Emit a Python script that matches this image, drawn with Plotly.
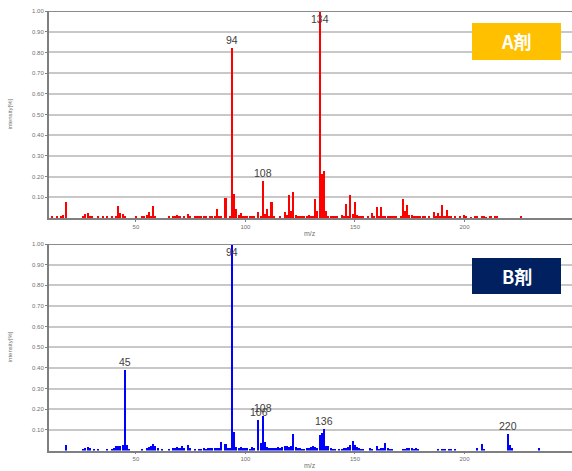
import plotly.graph_objects as go

# Mass spectrum of sample A (m/z, relative intensity)
mz_a = [12, 14, 16, 17, 18,
        26, 27, 28, 29, 30,
        33, 35, 37, 39, 41, 42, 43, 44, 45,
        50, 53, 54, 55, 56, 57, 58, 59,
        65, 67, 68, 69, 70, 72, 74, 75, 77, 78, 79, 80, 81, 82, 84, 85, 86, 87, 88, 89,
        91, 93, 94, 95, 96, 97, 98, 99, 100, 101, 102, 103, 104, 106, 107, 108, 109, 110, 111, 112, 113,
        116, 118, 119, 120, 121, 122, 123, 124, 125, 126, 127, 128, 129, 130, 131, 132, 133, 134, 135, 136,
        137, 138, 139, 140, 141, 142, 144, 145, 146, 147, 148, 149, 150, 151, 152, 153, 154, 156,
        158, 159, 160, 161, 162, 163, 164, 165, 166, 167, 168, 169, 171, 172, 173, 174, 175, 176, 177,
        178, 179, 180, 181, 182, 184, 186, 187, 188, 189, 190, 191, 192, 193, 194, 196, 198,
        200, 201, 203, 205, 206, 208, 209, 210, 212, 214, 215, 226]
int_a = [0.008, 0.008, 0.010, 0.015, 0.075,
         0.008, 0.020, 0.025, 0.010, 0.005,
         0.005, 0.005, 0.005, 0.008, 0.010, 0.060, 0.025, 0.020, 0.005,
         0.005, 0.008, 0.010, 0.015, 0.030, 0.012, 0.057, 0.008,
         0.012, 0.010, 0.012, 0.015, 0.008, 0.008, 0.020, 0.008, 0.008, 0.012, 0.010, 0.012, 0.012, 0.010, 0.008, 0.012, 0.010, 0.045, 0.010, 0.005,
         0.095, 0.010, 0.820, 0.115, 0.045, 0.015, 0.025, 0.010, 0.012, 0.010, 0.008, 0.010, 0.008, 0.028, 0.010, 0.180, 0.020, 0.045, 0.010, 0.075, 0.008,
         0.005, 0.030, 0.015, 0.110, 0.035, 0.125, 0.015, 0.008, 0.010, 0.005, 0.008, 0.006, 0.015, 0.008, 0.010, 0.090, 0.035, 1.000, 0.215, 0.225,
         0.035, 0.012, 0.008, 0.005, 0.008, 0.006, 0.015, 0.008, 0.068, 0.012, 0.110, 0.020, 0.078, 0.015, 0.012, 0.010, 0.008, 0.005,
         0.025, 0.008, 0.055, 0.010, 0.055, 0.008, 0.010, 0.012, 0.008, 0.010, 0.006, 0.008, 0.005, 0.093, 0.035, 0.063, 0.015, 0.015, 0.008,
         0.006, 0.008, 0.010, 0.006, 0.008, 0.006, 0.030, 0.008, 0.025, 0.010, 0.063, 0.010, 0.040, 0.012, 0.006, 0.005, 0.006,
         0.013, 0.006, 0.004, 0.006, 0.005, 0.005, 0.005, 0.004, 0.005, 0.006, 0.005, 0.005]
peaks_a = [94, 108, 134]

# Mass spectrum of sample B
mz_b = [18, 26, 27, 28, 29, 31, 33, 37, 39, 40, 41, 42, 43, 44, 45, 46, 47,
        53, 55, 56, 57, 58, 59, 60, 62,
        65, 67, 68, 69, 70, 71, 72, 74, 75, 77, 79, 80, 81, 82, 83, 84, 85, 86, 87, 88, 89,
        91, 92, 93, 94, 95, 96, 97, 98, 99, 100, 101, 102, 103, 104, 106, 107, 108, 109, 110,
        111, 112, 113, 114, 115, 116, 117, 118, 119, 120, 121, 122, 123, 124, 125, 126, 127, 128,
        129, 130, 131, 132, 133, 134, 135, 136, 137, 138, 139, 140, 141, 143, 144, 145, 146, 147,
        148, 149, 150, 151, 152, 153, 154, 157, 158, 160, 161, 162, 163, 164, 165, 166, 167,
        172, 173, 174, 175, 176, 177, 178, 179,
        188, 190, 191, 193, 194, 196, 206, 208, 209, 220, 221, 222, 234]
int_b = [0.027, 0.008, 0.012, 0.015, 0.012, 0.006, 0.008, 0.005, 0.008, 0.012, 0.020, 0.020, 0.022, 0.025, 0.390, 0.025, 0.008,
         0.006, 0.010, 0.015, 0.020, 0.030, 0.020, 0.010, 0.005,
         0.006, 0.010, 0.012, 0.015, 0.012, 0.020, 0.012, 0.025, 0.010, 0.006, 0.008, 0.008, 0.010, 0.008, 0.010, 0.012, 0.010, 0.012, 0.010, 0.012, 0.040,
         0.030, 0.010, 0.012, 1.000, 0.090, 0.015, 0.012, 0.015, 0.010, 0.012, 0.012, 0.008, 0.015, 0.010, 0.150, 0.035, 0.167, 0.040, 0.015,
         0.012, 0.010, 0.010, 0.012, 0.015, 0.012, 0.018, 0.022, 0.022, 0.015, 0.020, 0.080, 0.015, 0.010, 0.010, 0.008, 0.008, 0.010,
         0.012, 0.015, 0.020, 0.018, 0.012, 0.075, 0.085, 0.105, 0.020, 0.020, 0.010, 0.008, 0.006, 0.006, 0.008, 0.012, 0.010, 0.015,
         0.025, 0.045, 0.025, 0.015, 0.012, 0.008, 0.006, 0.010, 0.008, 0.020, 0.008, 0.010, 0.012, 0.035, 0.012, 0.008, 0.006,
         0.008, 0.008, 0.010, 0.012, 0.010, 0.008, 0.010, 0.008,
         0.005, 0.006, 0.008, 0.006, 0.005, 0.004, 0.012, 0.030, 0.008, 0.080, 0.027, 0.010, 0.010]
peaks_b = [45, 94, 106, 108, 136, 220]

y_ticks = [0.1, 0.2, 0.3, 0.4, 0.5, 0.6, 0.7, 0.8, 0.9, 1.0]
x_ticks = [50, 100, 150, 200]
x_range = [10.3, 249.1]

W, H = 572, 471
PX_LEFT = 49
panels = [
    # (axis suffix, top px, bottom px, m/z, intensity, labelled peaks, colour, badge text, badge colour, badge rows)
    ("", 11, 218, mz_a, int_a, peaks_a, "#FF0000", "A剤", "#FFC000", (23, 60)),
    ("2", 244, 450.5, mz_b, int_b, peaks_b, "#0000FF", "B剤", "#002060", (258, 294)),
]

fig = go.Figure()
annotations = []
shapes = []
layout = {}
label_font = dict(size=10.5, color="#404040", family="Liberation Sans")
small_font = dict(size=6, color="#707070", family="Liberation Sans")

for suffix, top, bot, mz, inten, peaks, colour, badge, badge_col, (by0, by1) in panels:
    xa = "x" + suffix
    ya = "y" + suffix
    fig.add_trace(go.Bar(x=mz, y=inten, width=0.7, marker=dict(color=colour, line=dict(width=0)),
                         xaxis=xa, yaxis=ya, showlegend=False))
    dom_y = [(H - bot) / H, (H - top) / H]
    layout["xaxis" + suffix] = dict(
        domain=[PX_LEFT / W, 1.0], range=x_range, anchor=ya,
        tickvals=x_ticks, ticktext=[str(v) for v in x_ticks],
        ticks="outside", ticklen=2, tickcolor="#808080", tickfont=small_font,
        showline=True, linecolor="#808080", linewidth=1.5,
        showgrid=False, zeroline=False, automargin=False)
    layout["yaxis" + suffix] = dict(
        domain=dom_y, range=[0, 1.0], anchor=xa,
        tickvals=y_ticks, ticktext=["%.2f" % v for v in y_ticks],
        ticks="outside", ticklen=2, tickcolor="#808080", tickfont=small_font,
        showline=True, linecolor="#7F7F7F", linewidth=2,
        showgrid=True, gridcolor="#C8C8C8", gridwidth=2,
        zeroline=False, automargin=False)

    # darker frame line along the top of each plot area
    shapes.append(dict(type="line", xref=xa + " domain", yref=ya, x0=0, x1=1, y0=1.0, y1=1.0,
                       line=dict(color="#8C8C8C", width=2)))

    # peak labels (the full-scale peak keeps its label inside the plot)
    for p in peaks:
        v = inten[mz.index(p)]
        annotations.append(dict(x=p, y=v, xref=xa, yref=ya, text=str(p), showarrow=False,
                                xanchor="center",
                                yanchor="top" if v >= 1.0 else "bottom",
                                font=label_font))

    # axis titles
    annotations.append(dict(x=10 / W, y=(H - (top + bot) / 2) / H, xref="paper", yref="paper",
                            xanchor="center", yanchor="middle",
                            text="intensity[%]", textangle=-90, showarrow=False, font=small_font))
    annotations.append(dict(x=310 / W, y=(H - (bot + 15)) / H, xref="paper", yref="paper",
                            xanchor="center", yanchor="middle",
                            text="m/z", showarrow=False,
                            font=dict(size=7, color="#707070", family="Liberation Sans")))

    # sample badge
    shapes.append(dict(type="rect", xref="paper", yref="paper",
                       x0=472 / W, x1=561 / W, y0=(H - by1) / H, y1=(H - by0) / H,
                       fillcolor=badge_col, line=dict(width=0), layer="above"))
    annotations.append(dict(x=516.5 / W, y=(H - (by0 + by1) / 2) / H, xref="paper", yref="paper",
                            xanchor="center", yanchor="middle",
                            text="<b>%s</b>" % badge, showarrow=False,
                            font=dict(size=18, color="white", family="Noto Sans CJK JP")))

fig.update_layout(
    width=W, height=H, margin=dict(l=0, r=0, t=0, b=0),
    paper_bgcolor="white", plot_bgcolor="white",
    annotations=annotations, shapes=shapes, bargap=0,
    **layout)

fig.write_html("out.html")
